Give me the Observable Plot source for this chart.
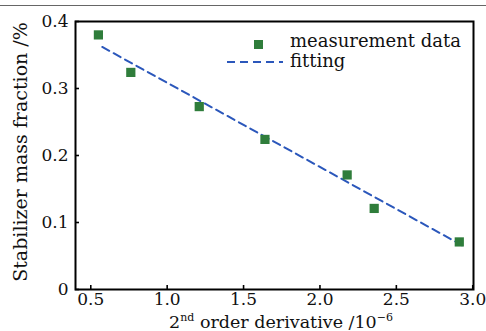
<!DOCTYPE html>
<html>
<head>
<meta charset="utf-8">
<script src="https://cdn.jsdelivr.net/npm/d3@7"></script>
<script src="https://cdn.jsdelivr.net/npm/@observablehq/plot@0.6"></script>
<style>
  html, body { margin: 0; padding: 0; background: #fff; }
  #wrap { position: relative; width: 486px; height: 331px; overflow: hidden; }
  #topline { position: absolute; left: 0; top: 5px; width: 486px; height: 1px; background: #666; }
  #wrap svg, #wrap svg text { font-family: "DejaVu Serif", "Liberation Serif", serif !important; }
</style>
</head>
<body>
<div id="wrap"><div id="topline"></div></div>
<script>
// Data
const derivative = [0.55, 0.762, 1.21, 1.64, 2.178, 2.355, 2.912];
const fraction   = [0.380, 0.324, 0.273, 0.224, 0.171, 0.121, 0.071];
const fitX = [0.575, 2.93];
const fitY = [0.362, 0.066];
const xTicks = [0.5, 1.0, 1.5, 2.0, 2.5, 3.0];
const yTicks = [0, 0.1, 0.2, 0.3, 0.4];
const seriesNames = ["measurement data", "fitting"];

const green = "#2f7d3b";
const blue = "#2b57bb";
const SERIF = '"DejaVu Serif", "Liberation Serif", serif';

const points = derivative.map((x, i) => ({x, y: fraction[i]}));
const fit = fitX.map((x, i) => ({x, y: fitY[i]}));

const W = 486, H = 331;
const mL = 75, mR = 13, mT = 21, mB = 42;
const innerW = W - mL - mR, innerH = H - mT - mB;
const yFmt = d => d === 0 ? "0" : d3.format(".1f")(d);

const plot = Plot.plot({
  width: W,
  height: H,
  marginLeft: mL,
  marginRight: mR,
  marginTop: mT,
  marginBottom: mB,
  style: {fontFamily: SERIF, fontSize: "17px", background: "white", overflow: "visible"},
  x: {domain: [0.4, 3.005]},
  y: {domain: [0, 0.4]},
  marks: [
    Plot.axisX({ticks: xTicks, tickSize: 0, tickPadding: 3, label: null, tickFormat: d3.format(".1f"), fontSize: 17, fill: "#111"}),
    Plot.axisY({ticks: yTicks, tickSize: 0, tickPadding: 7, label: null, tickFormat: yFmt, fontSize: 17, fill: "#111"}),
    Plot.tickX(xTicks, {x: d => d, insetTop: innerH - 4, stroke: "black", strokeWidth: 1.6}),
    Plot.tickY(yTicks, {y: d => d, insetRight: innerW - 4, stroke: "black", strokeWidth: 1.6}),
    Plot.line(fit, {x: "x", y: "y", stroke: blue, strokeWidth: 2, strokeDasharray: "8,5"}),
    Plot.dot(points, {x: "x", y: "y", symbol: "square", r: 5.2, fill: green, stroke: "none"}),
    Plot.frame({stroke: "black", strokeWidth: 2})
  ]
});

document.getElementById("wrap").appendChild(plot);

const svg = d3.select(plot);

// Legend
const lg = svg.append("g").attr("font-size", 18).attr("fill", "#111")
  .attr("font-family", SERIF).attr("text-anchor", "start");
lg.append("rect").attr("x", 254).attr("y", 40).attr("width", 9).attr("height", 9).attr("fill", green);
lg.append("line").attr("x1", 227).attr("x2", 283).attr("y1", 62).attr("y2", 62)
  .attr("stroke", blue).attr("stroke-width", 2).attr("stroke-dasharray", "8,5");
lg.append("text").attr("x", 290).attr("y", 47).text(seriesNames[0]);
lg.append("text").attr("x", 290).attr("y", 67).text(seriesNames[1]);

// X axis title with superscripts
const xt = svg.append("text").attr("x", 281).attr("y", 328).attr("text-anchor", "middle")
  .attr("font-family", SERIF).attr("font-size", 17.5).attr("fill", "#111");
xt.append("tspan").text("2");
xt.append("tspan").attr("font-size", 11).attr("dy", -7).text("nd");
xt.append("tspan").attr("dy", 7).text(" order derivative /10");
xt.append("tspan").attr("font-size", 11).attr("dy", -7).text("\u22126");

// Y axis title
svg.append("text").attr("transform", "translate(27,152) rotate(-90)")
  .attr("text-anchor", "middle").attr("font-family", SERIF).attr("font-size", 19).attr("fill", "#111")
  .text("Stabilizer mass fraction /%");
</script>
</body>
</html>
